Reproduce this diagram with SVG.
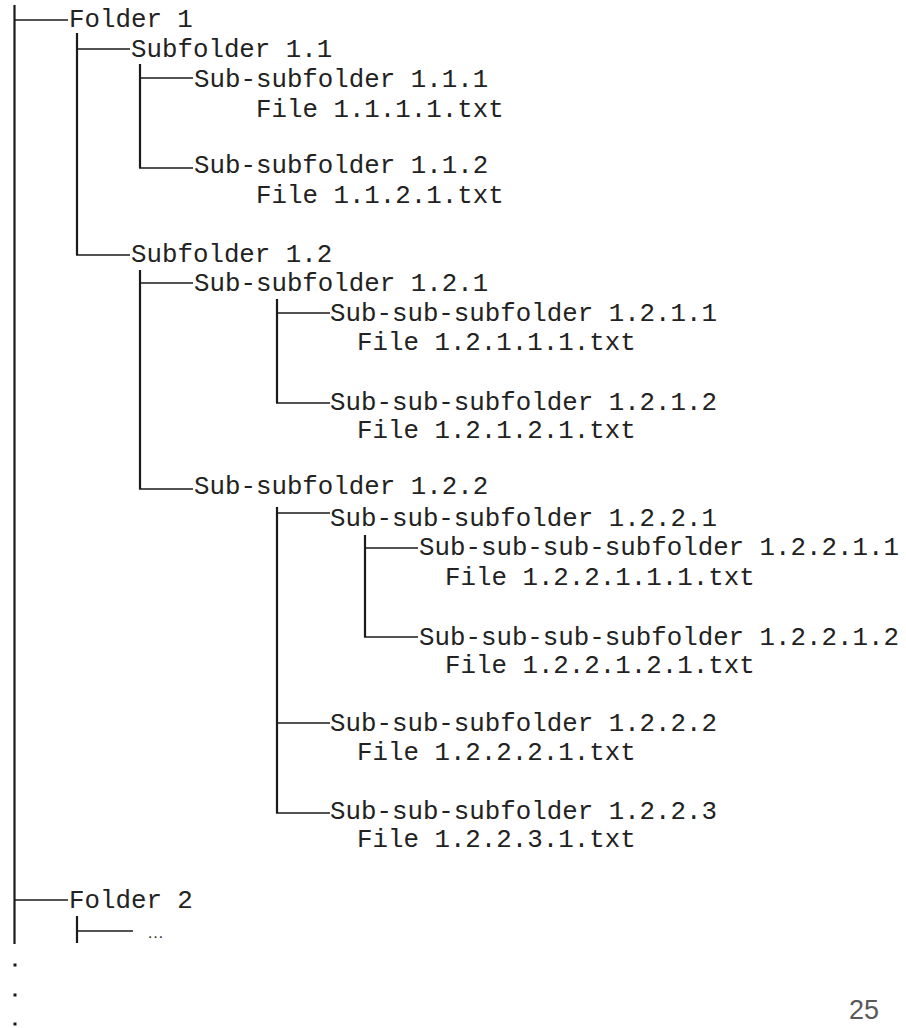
<svg xmlns="http://www.w3.org/2000/svg" width="906" height="1028" viewBox="0 0 906 1028">
<style>
.t{font-family:"Liberation Mono","Courier New",monospace;font-size:25.8px;fill:#222}
.v{stroke:#1a1a1a;stroke-width:2.2;fill:none}
.h{stroke:#1a1a1a;stroke-width:1.4;fill:none}
.pg{font-family:"Liberation Sans",Arial,sans-serif;font-size:27px;fill:#595959}
.el{font-family:"Liberation Sans",Arial,sans-serif;font-size:17px;fill:#333}
</style>
<rect width="906" height="1028" fill="#ffffff"/>
<g id="connectors">
<line class="v" x1="14.5" y1="5" x2="14.5" y2="944"/>
<line class="h" x1="14.5" y1="20" x2="68" y2="20"/>
<line class="h" x1="14.5" y1="900" x2="68" y2="900"/>
<line class="v" x1="77" y1="33" x2="77" y2="255"/>
<line class="h" x1="77" y1="49" x2="130" y2="49"/>
<line class="h" x1="76" y1="255" x2="130" y2="255"/>
<line class="v" x1="140" y1="64" x2="140" y2="168"/>
<line class="h" x1="140" y1="78" x2="193" y2="78"/>
<line class="h" x1="139" y1="168" x2="193" y2="168"/>
<line class="v" x1="140" y1="270" x2="140" y2="489"/>
<line class="h" x1="140" y1="283" x2="193" y2="283"/>
<line class="h" x1="139" y1="489" x2="193" y2="489"/>
<line class="v" x1="277" y1="299" x2="277" y2="403"/>
<line class="h" x1="277" y1="313" x2="330" y2="313"/>
<line class="h" x1="276" y1="403" x2="330" y2="403"/>
<line class="v" x1="277" y1="507" x2="277" y2="813"/>
<line class="h" x1="277" y1="513" x2="330" y2="513"/>
<line class="h" x1="277" y1="723" x2="330" y2="723"/>
<line class="h" x1="276" y1="813" x2="330" y2="813"/>
<line class="v" x1="365" y1="535" x2="365" y2="637"/>
<line class="h" x1="365" y1="548" x2="418" y2="548"/>
<line class="h" x1="364" y1="637" x2="418" y2="637"/>
<line class="v" x1="77" y1="916" x2="77" y2="943"/>
<line class="h" x1="77" y1="931" x2="133" y2="931"/>
<rect x="13.5" y="963.5" width="3" height="3" fill="#1a1a1a"/>
<rect x="13.5" y="993.5" width="3" height="3" fill="#1a1a1a"/>
<rect x="13.5" y="1022.5" width="3" height="3" fill="#1a1a1a"/>
</g>
<g id="folder1"><text class="t" x="69" y="27">Folder 1</text></g>
<g id="sub1-1"><text class="t" x="131" y="57">Subfolder 1.1</text></g>
<g id="sub1-1-1"><text class="t" x="194" y="87">Sub-subfolder 1.1.1</text><text class="t" x="256" y="117">File 1.1.1.1.txt</text></g>
<g id="sub1-1-2"><text class="t" x="194" y="173">Sub-subfolder 1.1.2</text><text class="t" x="256" y="203">File 1.1.2.1.txt</text></g>
<g id="sub1-2"><text class="t" x="131" y="262">Subfolder 1.2</text></g>
<g id="sub1-2-1"><text class="t" x="194" y="291">Sub-subfolder 1.2.1</text></g>
<g id="sub1-2-1-1"><text class="t" x="330" y="321">Sub-sub-subfolder 1.2.1.1</text><text class="t" x="357" y="350">File 1.2.1.1.1.txt</text></g>
<g id="sub1-2-1-2"><text class="t" x="330" y="410">Sub-sub-subfolder 1.2.1.2</text><text class="t" x="357" y="438">File 1.2.1.2.1.txt</text></g>
<g id="sub1-2-2"><text class="t" x="194" y="494">Sub-subfolder 1.2.2</text></g>
<g id="sub1-2-2-1"><text class="t" x="330" y="526">Sub-sub-subfolder 1.2.2.1</text></g>
<g id="sub1-2-2-1-1"><text class="t" x="419" y="555">Sub-sub-sub-subfolder 1.2.2.1.1</text><text class="t" x="445" y="585">File 1.2.2.1.1.1.txt</text></g>
<g id="sub1-2-2-1-2"><text class="t" x="419" y="645">Sub-sub-sub-subfolder 1.2.2.1.2</text><text class="t" x="445" y="673">File 1.2.2.1.2.1.txt</text></g>
<g id="sub1-2-2-2"><text class="t" x="330" y="731">Sub-sub-subfolder 1.2.2.2</text><text class="t" x="357" y="760">File 1.2.2.2.1.txt</text></g>
<g id="sub1-2-2-3"><text class="t" x="330" y="819">Sub-sub-subfolder 1.2.2.3</text><text class="t" x="357" y="847">File 1.2.2.3.1.txt</text></g>
<g id="folder2"><text class="t" x="69" y="908">Folder 2</text></g>
<g id="ellipsis"><text class="el" x="147" y="938">…</text></g>
<g id="page"><text class="pg" x="849" y="1019">25</text></g>
</svg>
